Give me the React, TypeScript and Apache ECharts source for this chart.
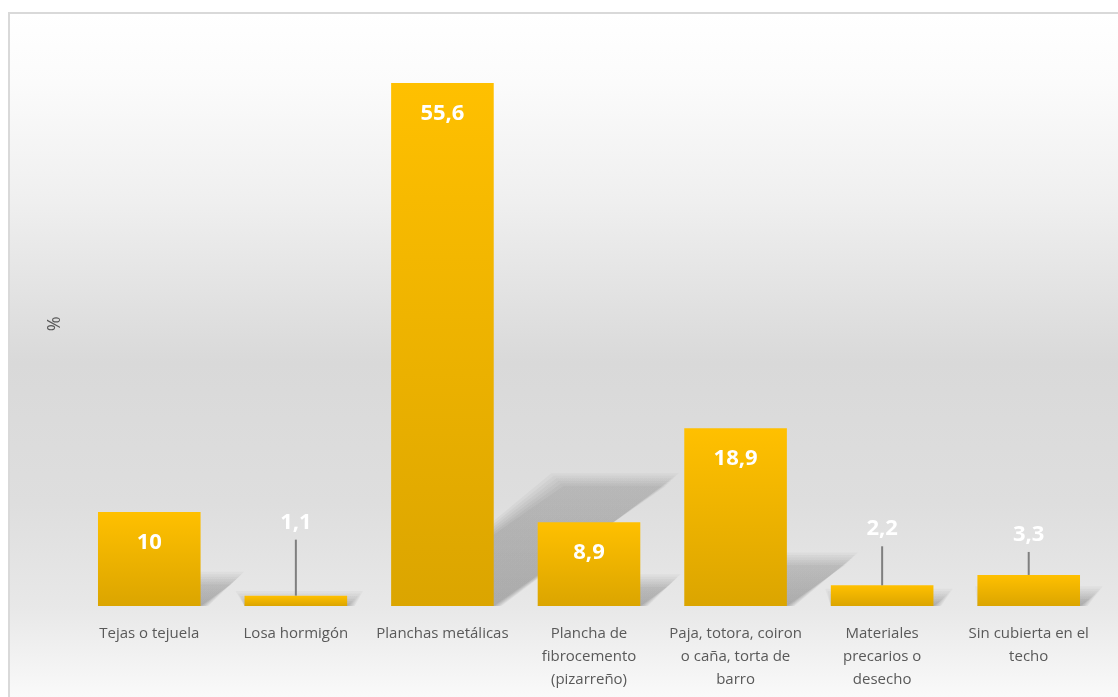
import React, { useEffect, useRef } from "react";
import * as echarts from "echarts";

const categories = [
  "Tejas o tejuela",
  "Losa hormigón",
  "Planchas metálicas",
  "Plancha de\nfibrocemento\n(pizarreño)",
  "Paja, totora, coiron\no caña, torta de\nbarro",
  "Materiales\nprecarios o\ndesecho",
  "Sin cubierta en el\ntecho",
];
const values = [10, 1.1, 55.6, 8.9, 18.9, 2.2, 3.3];
const axisName = "%";

const fmt = (v: number) => String(v).replace(".", ",");
const SMALL = 5;
// pixel rise of outside labels above small bars (styling)
const labelRise: Record<number, number> = { 1: 76, 5: 59, 6: 43 };

export default function App() {
  const ref = useRef<HTMLDivElement>(null);
  useEffect(() => {
    const chart = echarts.init(ref.current!, undefined, { renderer: "svg" });
    const font = "'Open Sans', 'Noto Sans', sans-serif";
    chart.setOption({
      animation: false,
      graphic: [
        {
          type: "rect",
          z: -10,
          silent: true,
          shape: { x: 9, y: 13, width: 1120, height: 700 },
          style: {
            stroke: "#d9d9d9",
            lineWidth: 2,
            fill: new echarts.graphic.LinearGradient(0, 0, 0, 1, [
              { offset: 0, color: "#ffffff" },
              { offset: 0.1, color: "#fbfbfb" },
              { offset: 0.27, color: "#efefef" },
              { offset: 0.5, color: "#d9d9d9" },
              { offset: 0.7, color: "#dedede" },
              { offset: 0.85, color: "#e8e8e8" },
              { offset: 0.93, color: "#f3f3f3" },
              { offset: 1, color: "#fdfdfd" },
            ]),
          },
        },
      ],
      grid: { left: 76, right: 16, top: 41.5, bottom: 91 },
      xAxis: {
        type: "category",
        data: categories,
        axisLine: { show: false },
        axisTick: { show: false },
        axisLabel: {
          interval: 0,
          margin: 14,
          color: "#595959",
          fontSize: 15,
          lineHeight: 23,
          fontFamily: font,
        },
      },
      yAxis: {
        type: "value",
        min: 0,
        max: 60,
        name: axisName,
        nameLocation: "middle",
        nameGap: 14,
        nameRotate: 90,
        nameTextStyle: { color: "#595959", fontSize: 18, fontFamily: font },
        axisLine: { show: false },
        axisTick: { show: false },
        axisLabel: { show: false },
        splitLine: { show: false },
      },
      series: [
        {
          type: "custom",
          z: 1,
          silent: true,
          data: values.map((v, i) => [i, v]),
          renderItem: (params: any, api: any) => {
            const idx = api.value(0);
            const val = api.value(1);
            const base = api.coord([idx, 0]);
            const top = api.coord([idx, val]);
            const w = api.size([1, 0])[0] * 0.7;
            const h = base[1] - top[1];
            const dx = 0.33 * h;
            const dy = 0.23 * h;
            const x0 = base[0] - w / 2;
            const x1 = base[0] + w / 2;
            const layers = [];
            const n = 6;
            for (let k = 0; k < n; k++) {
              const e = (n - 1 - k) * 2.5;
              layers.push({
                type: "polygon",
                shape: {
                  points: [
                    [x0, base[1]],
                    [x1 + e * 0.6, base[1]],
                    [x1 + dx + e, base[1] - dy - e],
                    [x0 + dx - e, base[1] - dy - e],
                  ],
                },
                style: {
                  fill: new echarts.graphic.LinearGradient(0, 1, 0, 0, [
                    { offset: 0, color: "rgba(0,0,0,0.05)" },
                    { offset: 1, color: "rgba(0,0,0,0.03)" },
                  ]),
                },
              });
            }
            return { type: "group", children: layers };
          },
        },
        {
          type: "bar",
          z: 3,
          barCategoryGap: "30%",
          data: values.map((v) => ({
            value: v,
            label: {
              show: v >= SMALL,
            },
          })),
          itemStyle: {
            color: new echarts.graphic.LinearGradient(0, 0, 0, 1, [
              { offset: 0, color: "#FFC000" },
              { offset: 1, color: "#DBA500" },
            ]),
          },
          label: {
            position: "insideTop",
            distance: 17,
            color: "#ffffff",
            fontSize: 22,
            fontWeight: "bold",
            fontFamily: font,
            formatter: (p: any) => fmt(p.value),
          },
        },
        {
          type: "custom",
          z: 4,
          silent: true,
          data: values
            .map((v, i) => [i, v])
            .filter((d) => d[1] < SMALL),
          renderItem: (params: any, api: any) => {
            const idx = api.value(0);
            const val = api.value(1);
            const top = api.coord([idx, val]);
            const rise = labelRise[idx] ?? 50;
            const ly = top[1] - rise;
            return {
              type: "group",
              children: [
                {
                  type: "line",
                  shape: { x1: top[0], y1: ly + 20, x2: top[0], y2: top[1] },
                  style: { stroke: "#7f7f7f", lineWidth: 2 },
                },
                {
                  type: "text",
                  style: {
                    text: fmt(val),
                    x: top[0],
                    y: ly,
                    fill: "#ffffff",
                    fontSize: 22,
                    fontWeight: "bold",
                    fontFamily: font,
                    align: "center",
                    verticalAlign: "middle",
                  },
                },
              ],
            };
          },
        },
      ],
    });
    return () => chart.dispose();
  }, []);
  return (
    <div
      ref={ref}
      style={{ position: "fixed", left: 0, top: 0, width: 1118, height: 697 }}
    />
  );
}
